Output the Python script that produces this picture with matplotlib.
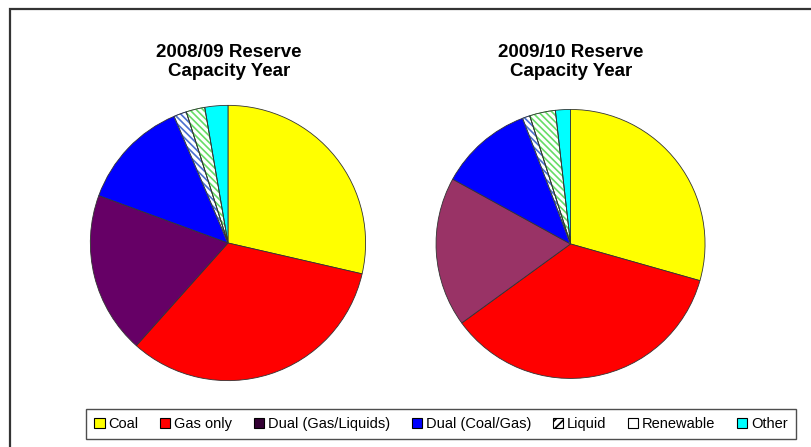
import matplotlib.pyplot as plt
from matplotlib.patches import Rectangle, Patch, Wedge

plt.rcParams['font.family'] = ['Liberation Sans', 'DejaVu Sans']
plt.rcParams['hatch.linewidth'] = 1.2

categories = ["Coal", "Gas only", "Dual (Gas/Liquids)", "Dual (Coal/Gas)",
              "Liquid", "Renewable", "Other"]
share_2008 = [28.6, 33.0, 19.0, 13.0, 1.5, 2.2, 2.7]
share_2009 = [29.4, 35.6, 18.0, 11.2, 0.9, 3.1, 1.8]
titles = ["2008/09 Reserve\nCapacity Year", "2009/10 Reserve\nCapacity Year"]

colors_2008 = ["#FFFF00", "#FF0000", "#660066", "#0000FF", "white", "white", "#00FFFF"]
colors_2009 = ["#FFFF00", "#FF0000", "#993366", "#0000FF", "white", "white", "#00FFFF"]
hatches = [None, None, None, None, "\\\\\\\\\\", "\\\\\\\\\\", None]
hatch_colors = ["black", "black", "black", "black", "#4A6FD0", "#66DD66", "black"]

fig = plt.figure(figsize=(8.11, 4.47), dpi=100)

# outer frame (runs off the right and bottom edges)
fig.patches.append(Rectangle((10 / 811, -0.05), 1.0, 1 - 9 / 447 + 0.05,
                             transform=fig.transFigure, fill=False,
                             edgecolor="#333333", linewidth=1.6))


def draw_pie(rect, values, colors, title, title_x):
    ax = fig.add_axes(rect)
    wedges, _ = ax.pie(values, colors=colors, startangle=90, counterclock=False,
                       radius=1.0, wedgeprops=dict(edgecolor="#333333", linewidth=0.6))
    for w, h, hc in zip(wedges, hatches, hatch_colors):
        if h:
            w.set_hatch(h)
            w.set_edgecolor(hc)
            # dark outline on top of the hatched wedge
            ax.add_patch(Wedge(w.center, w.r, w.theta1, w.theta2, fill=False,
                               edgecolor="#333333", linewidth=0.6))
    ax.set_xlim(-1.01, 1.01)
    ax.set_ylim(-1.01, 1.01)
    ax.set_aspect("equal")
    fig.text(title_x, 1 - 62 / 447, title, ha="center", va="center",
             fontsize=13.5, fontweight="bold", linespacing=1.15)
    return ax


draw_pie([0.1097, 0.1454, 0.3428, 0.622], share_2008, colors_2008, titles[0], 229 / 811)
draw_pie([0.536, 0.150, 0.335, 0.6085], share_2009, colors_2009, titles[1], 571 / 811)

legend_colors = ["#FFFF00", "#FF0000", "#330033", "#0000FF", "white", "white", "#00FFFF"]
legend_hatch = [None, None, None, None, "////", None, None]
handles = [Patch(facecolor=c, edgecolor="black", hatch=h, linewidth=0.8)
           for c, h in zip(legend_colors, legend_hatch)]
leg = fig.legend(handles, categories, loc="center", bbox_to_anchor=(441 / 811, 1 - 424 / 447),
                 ncol=7, fontsize=10.5, frameon=True, fancybox=False, handlelength=0.7,
                 handleheight=0.7, handletextpad=0.25, columnspacing=1.5,
                 borderpad=0.55, borderaxespad=0)
leg.get_frame().set_edgecolor("#222222")
leg.get_frame().set_linewidth(1.0)

fig.savefig("out.png", dpi=100)
